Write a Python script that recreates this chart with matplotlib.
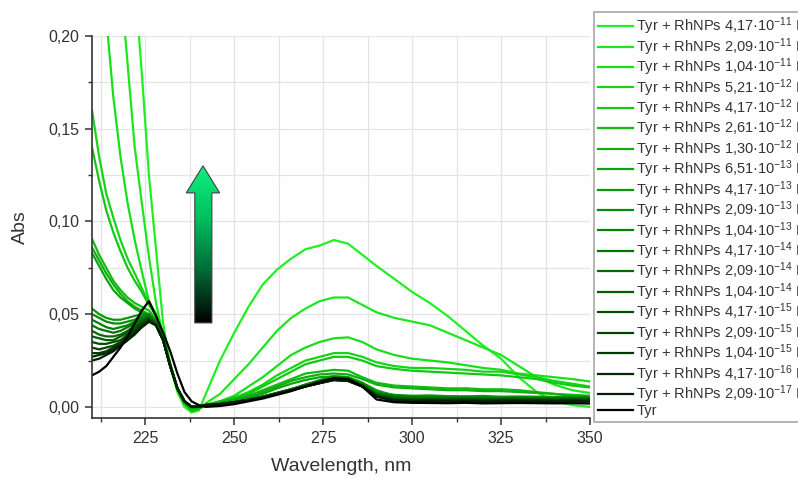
import matplotlib
matplotlib.use("Agg")
import matplotlib.pyplot as plt
import numpy as np
from matplotlib.colors import LinearSegmentedColormap
from matplotlib.patches import Polygon
from matplotlib.ticker import MultipleLocator, FuncFormatter

plt.rcParams['font.family'] = ['Liberation Sans', 'DejaVu Sans']
plt.rcParams['mathtext.fontset'] = 'custom'
plt.rcParams['mathtext.rm'] = 'Liberation Sans'
plt.rcParams['mathtext.default'] = 'regular'

# wavelength grid, nm
wl = [210, 212, 214, 216, 218, 220, 222, 224, 226, 228, 230, 232, 234, 236, 238, 240, 242,
      246, 250, 254, 258, 262, 266, 270, 274, 278, 282, 286, 290,
      295, 300, 305, 310, 315, 320, 325, 330, 335, 340, 345, 350]

labels = ['Tyr + RhNPs 4,17·10$^{-11}$ M', 'Tyr + RhNPs 2,09·10$^{-11}$ M',
          'Tyr + RhNPs 1,04·10$^{-11}$ M', 'Tyr + RhNPs 5,21·10$^{-12}$ M',
          'Tyr + RhNPs 4,17·10$^{-12}$ M', 'Tyr + RhNPs 2,61·10$^{-12}$ M',
          'Tyr + RhNPs 1,30·10$^{-12}$ M', 'Tyr + RhNPs 6,51·10$^{-13}$ M',
          'Tyr + RhNPs 4,17·10$^{-13}$ M', 'Tyr + RhNPs 2,09·10$^{-13}$ M',
          'Tyr + RhNPs 1,04·10$^{-13}$ M', 'Tyr + RhNPs 4,17·10$^{-14}$ M',
          'Tyr + RhNPs 2,09·10$^{-14}$ M', 'Tyr + RhNPs 1,04·10$^{-14}$ M',
          'Tyr + RhNPs 4,17·10$^{-15}$ M', 'Tyr + RhNPs 2,09·10$^{-15}$ M',
          'Tyr + RhNPs 1,04·10$^{-15}$ M', 'Tyr + RhNPs 4,17·10$^{-16}$ M',
          'Tyr + RhNPs 2,09·10$^{-17}$ M', 'Tyr']

abs_4_17e11 = [1.00, 0.80, 0.62, 0.48, 0.37, 0.29, 0.23, 0.18, 0.125, 0.085, 0.045, 0.022, 0.008, 0.000, -0.003, -0.002, 0.007,
               0.025, 0.040, 0.054, 0.066, 0.074, 0.080, 0.085, 0.087, 0.090, 0.088, 0.082, 0.076,
               0.069, 0.062, 0.056, 0.049, 0.041, 0.033, 0.026, 0.016, 0.008, 0.003, 0.001, 0.000]
abs_2_09e11 = [0.55, 0.43, 0.34, 0.28, 0.23, 0.185, 0.14, 0.11, 0.081, 0.056, 0.038, 0.022, 0.010, 0.002, -0.002, -0.001, 0.002,
               0.007, 0.015, 0.023, 0.032, 0.041, 0.048, 0.053, 0.057, 0.059, 0.059, 0.055, 0.051,
               0.048, 0.046, 0.044, 0.040, 0.036, 0.032, 0.028, 0.022, 0.016, 0.012, 0.009, 0.0075]
abs_1_04e11 = [0.34, 0.265, 0.21, 0.167, 0.135, 0.11, 0.09, 0.073, 0.057, 0.050, 0.038, 0.022, 0.010, 0.002, -0.002, -0.001, 0.001,
               0.003, 0.006, 0.011, 0.016, 0.022, 0.028, 0.032, 0.035, 0.037, 0.0375, 0.035, 0.031,
               0.028, 0.026, 0.025, 0.024, 0.0225, 0.021, 0.020, 0.018, 0.017, 0.016, 0.015, 0.0137]
abs_5_21e12 = [0.160, 0.135, 0.115, 0.102, 0.090, 0.080, 0.072, 0.064, 0.056, 0.050, 0.038, 0.023, 0.010, 0.002, -0.002, -0.001, 0.001,
               0.003, 0.005, 0.008, 0.012, 0.017, 0.021, 0.025, 0.027, 0.029, 0.029, 0.027, 0.024,
               0.022, 0.021, 0.021, 0.0205, 0.020, 0.019, 0.019, 0.0175, 0.016, 0.014, 0.0125, 0.011]
abs_4_17e12 = [0.140, 0.122, 0.106, 0.094, 0.084, 0.075, 0.068, 0.062, 0.055, 0.049, 0.038, 0.023, 0.010, 0.002, -0.002, -0.001, 0.001,
               0.003, 0.005, 0.007, 0.011, 0.015, 0.019, 0.023, 0.025, 0.027, 0.027, 0.025, 0.022,
               0.0205, 0.0195, 0.019, 0.0185, 0.018, 0.0175, 0.017, 0.016, 0.015, 0.013, 0.0115, 0.0105]
abs_2_61e12 = [0.0906, 0.082, 0.075, 0.068, 0.063, 0.059, 0.056, 0.054, 0.052, 0.047, 0.037, 0.023, 0.010, 0.002, -0.002, -0.001, 0.001,
               0.0025, 0.004, 0.006, 0.009, 0.012, 0.015, 0.018, 0.019, 0.020, 0.0195, 0.016, 0.013,
               0.0115, 0.011, 0.0105, 0.010, 0.010, 0.0095, 0.0095, 0.009, 0.008, 0.007, 0.0065, 0.006]
abs_1_30e12 = [0.086, 0.079, 0.072, 0.066, 0.061, 0.057, 0.054, 0.052, 0.050, 0.046, 0.037, 0.023, 0.010, 0.002, -0.001, 0.000, 0.001,
               0.0025, 0.004, 0.006, 0.008, 0.011, 0.014, 0.016, 0.0175, 0.018, 0.0175, 0.015, 0.012,
               0.0105, 0.010, 0.0095, 0.009, 0.009, 0.0085, 0.0085, 0.008, 0.0075, 0.007, 0.006, 0.0055]
abs_6_51e13 = [0.083, 0.076, 0.069, 0.063, 0.059, 0.056, 0.053, 0.051, 0.049, 0.045, 0.036, 0.023, 0.010, 0.003, 0.000, 0.000, 0.001,
               0.002, 0.0035, 0.005, 0.007, 0.010, 0.0125, 0.0145, 0.016, 0.0165, 0.016, 0.013, 0.009,
               0.006, 0.005, 0.0048, 0.0046, 0.0045, 0.0047, 0.0045, 0.0044, 0.0043, 0.0042, 0.004, 0.004]
abs_4_17e13 = [0.053, 0.050, 0.048, 0.047, 0.047, 0.048, 0.049, 0.050, 0.050, 0.046, 0.037, 0.022, 0.010, 0.003, 0.000, 0.000, 0.001,
               0.0015, 0.0025, 0.004, 0.0055, 0.0075, 0.0095, 0.012, 0.0145, 0.0165, 0.016, 0.013, 0.008,
               0.0065, 0.006, 0.0062, 0.0058, 0.0057, 0.0059, 0.0055, 0.0056, 0.0055, 0.0054, 0.0055, 0.0055]
abs_2_09e13 = [0.050, 0.048, 0.046, 0.045, 0.045, 0.046, 0.047, 0.049, 0.050, 0.046, 0.036, 0.022, 0.010, 0.003, 0.000, 0.000, 0.001,
               0.0015, 0.0025, 0.004, 0.0055, 0.0075, 0.0095, 0.012, 0.014, 0.016, 0.0155, 0.0125, 0.0075,
               0.006, 0.0055, 0.0055, 0.0053, 0.0054, 0.0051, 0.005, 0.0052, 0.005, 0.0049, 0.005, 0.005]
abs_1_04e13 = [0.047, 0.045, 0.043, 0.042, 0.043, 0.044, 0.046, 0.048, 0.049, 0.045, 0.036, 0.022, 0.010, 0.003, 0.000, 0.000, 0.001,
               0.0015, 0.0025, 0.004, 0.0055, 0.0075, 0.0095, 0.012, 0.014, 0.016, 0.0155, 0.0125, 0.0075,
               0.0058, 0.0053, 0.0052, 0.005, 0.0051, 0.0049, 0.0048, 0.0049, 0.0048, 0.0047, 0.0048, 0.0048]
abs_4_17e14 = [0.044, 0.042, 0.041, 0.040, 0.041, 0.043, 0.045, 0.047, 0.049, 0.045, 0.036, 0.022, 0.010, 0.003, 0.000, 0.000, 0.001,
               0.0015, 0.0025, 0.004, 0.0055, 0.0075, 0.0095, 0.0115, 0.0135, 0.0155, 0.015, 0.012, 0.007,
               0.0053, 0.0048, 0.0047, 0.0046, 0.0047, 0.0045, 0.0045, 0.0046, 0.0045, 0.0044, 0.0045, 0.0045]
abs_2_09e14 = [0.041, 0.039, 0.038, 0.038, 0.039, 0.041, 0.044, 0.046, 0.048, 0.045, 0.036, 0.022, 0.010, 0.003, 0.000, 0.000, 0.001,
               0.0015, 0.0025, 0.004, 0.0055, 0.0075, 0.0095, 0.0115, 0.0135, 0.0155, 0.015, 0.012, 0.0068,
               0.005, 0.0045, 0.0044, 0.0044, 0.0045, 0.0043, 0.0043, 0.0044, 0.0043, 0.0042, 0.0043, 0.0043]
abs_1_04e14 = [0.038, 0.037, 0.036, 0.036, 0.038, 0.040, 0.043, 0.046, 0.048, 0.045, 0.036, 0.022, 0.010, 0.003, 0.000, 0.000, 0.001,
               0.0015, 0.0025, 0.0038, 0.0052, 0.0072, 0.0092, 0.0112, 0.013, 0.015, 0.0145, 0.0115, 0.0065,
               0.0045, 0.004, 0.0041, 0.004, 0.0042, 0.004, 0.0039, 0.0041, 0.004, 0.0039, 0.004, 0.004]
abs_4_17e15 = [0.035, 0.034, 0.034, 0.035, 0.036, 0.039, 0.042, 0.045, 0.047, 0.044, 0.036, 0.022, 0.010, 0.003, 0.000, 0.000, 0.001,
               0.0015, 0.0025, 0.0038, 0.0052, 0.0072, 0.0092, 0.0112, 0.013, 0.015, 0.0145, 0.0115, 0.0062,
               0.0042, 0.0038, 0.0039, 0.0038, 0.004, 0.0037, 0.0038, 0.0039, 0.0038, 0.0037, 0.0038, 0.0038]
abs_2_09e15 = [0.032, 0.031, 0.032, 0.033, 0.035, 0.038, 0.041, 0.044, 0.047, 0.044, 0.036, 0.022, 0.010, 0.003, 0.000, 0.000, 0.001,
               0.0015, 0.0025, 0.0038, 0.0052, 0.0072, 0.009, 0.011, 0.013, 0.015, 0.0145, 0.0112, 0.006,
               0.004, 0.0035, 0.0036, 0.0035, 0.0037, 0.0034, 0.0035, 0.0036, 0.0035, 0.0034, 0.0035, 0.0035]
abs_1_04e15 = [0.029, 0.029, 0.030, 0.032, 0.034, 0.037, 0.040, 0.044, 0.047, 0.044, 0.036, 0.022, 0.010, 0.003, 0.000, 0.000, 0.001,
               0.0015, 0.0025, 0.0037, 0.005, 0.007, 0.009, 0.011, 0.0128, 0.0145, 0.014, 0.011, 0.0058,
               0.0038, 0.0034, 0.0035, 0.0033, 0.0035, 0.0032, 0.0033, 0.0034, 0.0033, 0.0032, 0.0033, 0.0033]
abs_4_17e16 = [0.027, 0.028, 0.029, 0.031, 0.033, 0.036, 0.040, 0.043, 0.046, 0.044, 0.036, 0.022, 0.010, 0.003, 0.000, 0.000, 0.001,
               0.0015, 0.0025, 0.0037, 0.005, 0.007, 0.009, 0.011, 0.0128, 0.0145, 0.014, 0.011, 0.0056,
               0.0035, 0.0031, 0.0032, 0.003, 0.0032, 0.0029, 0.003, 0.0031, 0.003, 0.0029, 0.003, 0.003]
abs_2_09e17 = [0.025, 0.026, 0.028, 0.030, 0.033, 0.036, 0.039, 0.043, 0.046, 0.044, 0.036, 0.022, 0.010, 0.003, 0.000, 0.000, 0.001,
               0.0015, 0.0025, 0.0037, 0.005, 0.007, 0.009, 0.011, 0.0128, 0.0145, 0.014, 0.011, 0.0055,
               0.0033, 0.003, 0.0031, 0.003, 0.0031, 0.0028, 0.003, 0.003, 0.0029, 0.0028, 0.003, 0.003]
abs_tyr = [0.017, 0.019, 0.022, 0.027, 0.032, 0.038, 0.045, 0.052, 0.057, 0.049, 0.040, 0.030, 0.018, 0.008, 0.003, 0.001, 0.000,
           0.0005, 0.0015, 0.003, 0.0045, 0.0065, 0.0085, 0.011, 0.0135, 0.0155, 0.015, 0.011, 0.004,
           0.0025, 0.0022, 0.0021, 0.002, 0.0022, 0.0019, 0.002, 0.0021, 0.002, 0.0019, 0.002, 0.0018]

series = [abs_4_17e11, abs_2_09e11, abs_1_04e11, abs_5_21e12, abs_4_17e12, abs_2_61e12,
          abs_1_30e12, abs_6_51e13, abs_4_17e13, abs_2_09e13, abs_1_04e13, abs_4_17e14,
          abs_2_09e14, abs_1_04e14, abs_4_17e15, abs_2_09e15, abs_1_04e15, abs_4_17e16,
          abs_2_09e17, abs_tyr]

# bright green -> black
colors = ['#22ee22', '#1ee61e', '#1ade1a', '#16d416', '#12c812', '#10bc10', '#0eb00e',
          '#0ca40c', '#0a980a', '#088c08', '#068006', '#057405', '#046804', '#035c03',
          '#035003', '#034403', '#033803', '#032c03', '#031f03', '#000000']

fig = plt.figure(figsize=(7.98, 4.79), dpi=100)
ax = fig.add_axes([0.1153, 0.1273, 0.624, 0.7975])

for y, c, lab in zip(series, colors, labels):
    ax.plot(wl, y, color=c, lw=1.6, label=lab)

ax.set_xlim(210, 350)
ax.set_ylim(-0.006, 0.20)
ax.xaxis.set_major_locator(MultipleLocator(25))
ax.xaxis.set_minor_locator(MultipleLocator(12.5))
ax.yaxis.set_major_locator(MultipleLocator(0.05))
ax.yaxis.set_minor_locator(MultipleLocator(0.025))
ax.yaxis.set_major_formatter(FuncFormatter(lambda v, p: ('%.2f' % v).replace('.', ',')))
ax.grid(True, which='both', color='#e4e4e4', lw=0.9)
ax.set_axisbelow(True)
for s in ['top', 'right']:
    ax.spines[s].set_visible(False)
for s in ['left', 'bottom']:
    ax.spines[s].set_color('#333333')
    ax.spines[s].set_linewidth(1.2)
ax.tick_params(which='major', direction='out', length=5, width=1.1, color='#333333',
               labelsize=11.5, labelcolor='#333333', pad=4)
ax.tick_params(which='minor', direction='out', length=3, width=1.0, color='#333333')
ax.set_xlabel('Wavelength, nm', fontsize=14, color='#333333', labelpad=9)
ax.set_ylabel('Abs', fontsize=14, color='#333333', labelpad=14)

# gradient arrow
arrow_pts = [(238.9, 0.0453), (243.7, 0.0453), (243.7, 0.1154), (245.9, 0.1154),
             (241.2, 0.1300), (236.5, 0.1154), (238.9, 0.1154)]
grad = LinearSegmentedColormap.from_list('g', ['#000000', '#006b36', '#00c060', '#10f080'])
poly = Polygon(arrow_pts, closed=True, facecolor='none', edgecolor='#404040', lw=0.8, zorder=6)
ax.add_patch(poly)
img = ax.imshow(np.linspace(0, 1, 256).reshape(-1, 1), cmap=grad, origin='lower',
                extent=(236.5, 245.9, 0.0453, 0.1300), aspect='auto', zorder=5)
img.set_clip_path(poly)
ax.set_xlim(210, 350)
ax.set_ylim(-0.006, 0.20)

leg = fig.legend(loc='upper left', bbox_to_anchor=(594 / 798, 1 - 12 / 479),
                 fontsize=10.5, frameon=True, fancybox=False, edgecolor='#999999',
                 handlelength=2.4, handletextpad=0.25, borderpad=0.25, labelspacing=-0.08,
                 borderaxespad=0)
leg.get_frame().set_linewidth(1.3)
for t in leg.get_texts():
    t.set_color('#333333')

fig.savefig('out.png', dpi=100)
